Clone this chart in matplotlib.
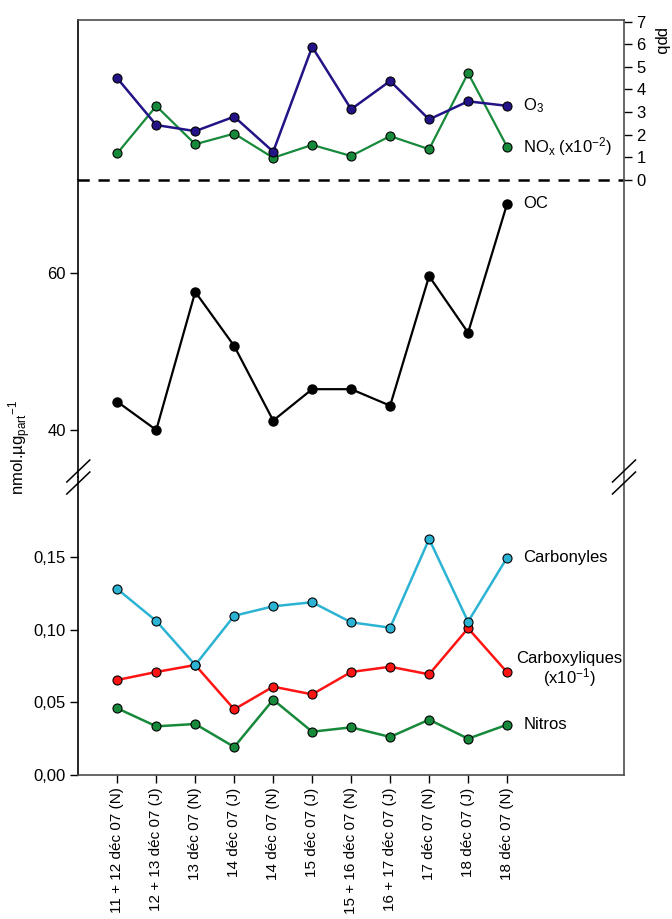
import matplotlib
matplotlib.use("Agg")
import matplotlib.pyplot as plt
from matplotlib.lines import Line2D

plt.rcParams['font.family'] = ['Liberation Sans', 'DejaVu Sans']
plt.rcParams['mathtext.fontset'] = 'custom'
plt.rcParams['mathtext.rm'] = 'Liberation Sans'
plt.rcParams['mathtext.it'] = 'Liberation Sans'

# ---------------- data ----------------
dates = ["11 + 12 déc 07 (N)", "12 + 13 déc 07 (J)", "13 déc 07 (N)", "14 déc 07 (J)",
         "14 déc 07 (N)", "15 déc 07 (J)", "15 + 16 déc 07 (N)", "16 + 17 déc 07 (J)",
         "17 déc 07 (N)", "18 déc 07 (J)", "18 déc 07 (N)"]
o3 = [4.49, 2.42, 2.15, 2.79, 1.24, 5.88, 3.12, 4.37, 2.67, 3.47, 3.27]
nox = [1.17, 3.26, 1.57, 2.04, 0.97, 1.54, 1.05, 1.93, 1.35, 4.72, 1.46]
oc = [43.6, 40.0, 57.6, 50.7, 41.2, 45.2, 45.2, 43.1, 59.6, 52.4, 68.8]
carbonyles = [0.128, 0.106, 0.0757, 0.1096, 0.1161, 0.1189, 0.1051, 0.1014, 0.1624, 0.1055, 0.1496]
carboxyliques = [0.0654, 0.0709, 0.0757, 0.0452, 0.0608, 0.0555, 0.0709, 0.0745, 0.0693, 0.101, 0.0707]
nitros = [0.0459, 0.0335, 0.0351, 0.0193, 0.0518, 0.0298, 0.0328, 0.0262, 0.0381, 0.025, 0.0346]

ppb_ticks = [0, 1, 2, 3, 4, 5, 6, 7]
oc_ticks = [40, 60]
bot_ticks = [0.0, 0.05, 0.10, 0.15]
bot_labels = ["0,00", "0,05", "0,10", "0,15"]

# ---------------- figure ----------------
W, H = 672, 919
fig = plt.figure(figsize=(W / 100, H / 100), dpi=100)

def fx(px):
    return px / W

def fy(py):
    return 1 - py / H

left, right = 78.3, 624.0
y_top, y_dash, y_break, y_bot = 20.0, 179.7, 477.0, 775.0

ax_top = fig.add_axes([fx(left), fy(y_dash), fx(right - left), (y_dash - y_top) / H])
ax_mid = fig.add_axes([fx(left), fy(y_break), fx(right - left), (y_break - y_dash) / H])
ax_bot = fig.add_axes([fx(left), fy(y_bot), fx(right - left), (y_bot - y_break) / H])

x = list(range(len(dates)))
FS = 12
spine_gray = '#4d4d4d'

for ax in (ax_top, ax_mid, ax_bot):
    ax.set_xlim(-1, 13)
    ax.patch.set_alpha(0)
    ax.spines['left'].set_color('black')
    ax.spines['right'].set_color(spine_gray)
    ax.spines['top'].set_color(spine_gray)
    ax.spines['bottom'].set_color(spine_gray)
    for s in ax.spines.values():
        s.set_linewidth(1.2)
    ax.tick_params(direction='out', length=5, width=1, labelsize=FS)

# ---- top panel (ppb) ----
ax_top.set_ylim(0, 7.07)
ax_top.spines['bottom'].set_visible(False)
ax_top.yaxis.tick_right()
ax_top.set_yticks(ppb_ticks)
ax_top.tick_params(axis='y', right=True, left=False, colors='black', length=6, pad=3)
ax_top.tick_params(axis='x', bottom=False, labelbottom=False)
ax_top.axhline(0, color='black', lw=1.8, ls=(0, (4.5, 3.5)), clip_on=False, zorder=1)

o3_c = '#221486'
nox_c = '#17893a'
ax_top.plot(x, nox, color=nox_c, lw=1.6, marker='o', ms=6.5, mfc=nox_c, mec='black', mew=0.8, zorder=3, clip_on=False)
ax_top.plot(x, o3, color=o3_c, lw=1.8, marker='o', ms=6.5, mfc=o3_c, mec='black', mew=0.8, zorder=4, clip_on=False)
ax_top.text(10.42, o3[-1], "O$_3$", fontsize=FS, va='center', ha='left')
ax_top.text(10.42, nox[-1], "NO$_\\mathrm{x}$ (x10$^{-2}$)", fontsize=FS, va='center', ha='left')
fig.text(fx(660), fy(42), "ppb", rotation=270, fontsize=FS, ha='center', va='center')

# ---- middle panel (OC) ----
ax_mid.set_ylim(34.01, 71.89)
ax_mid.spines['top'].set_visible(False)
ax_mid.spines['bottom'].set_visible(False)
ax_mid.set_yticks(oc_ticks)
ax_mid.tick_params(axis='y', right=False, length=6, pad=3)
ax_mid.tick_params(axis='x', bottom=False, labelbottom=False)
ax_mid.plot(x, oc, color='black', lw=1.6, marker='o', ms=6.5, mfc='black', mec='black', zorder=3)
ax_mid.text(10.42, oc[-1], "OC", fontsize=FS, va='center', ha='left')

# ---- bottom panel ----
ax_bot.set_ylim(0, 0.2051)
ax_bot.spines['top'].set_visible(False)
ax_bot.set_yticks(bot_ticks)
ax_bot.set_yticklabels(bot_labels)
ax_bot.tick_params(axis='y', right=False, length=6, pad=3)
ax_bot.set_xticks(x)
ax_bot.set_xticklabels(dates, rotation=90, fontsize=11, va='top', ha='center')
ax_bot.tick_params(axis='x', length=6, pad=3)

carb_c = '#2cb3d3'
red_c = '#ff1414'
nit_c = '#17893a'
ax_bot.plot(x, nitros, color=nit_c, lw=1.8, marker='o', ms=6.5, mfc=nit_c, mec='black', mew=0.8, zorder=3)
ax_bot.plot(x, carboxyliques, color=red_c, lw=1.8, marker='o', ms=6.5, mfc=red_c, mec='black', mew=0.8, zorder=4)
ax_bot.plot(x, carbonyles, color=carb_c, lw=1.8, marker='o', ms=6.5, mfc=carb_c, mec='black', mew=0.8, zorder=5)
ax_bot.text(10.42, carbonyles[-1], "Carbonyles", fontsize=FS, va='center', ha='left')
ax_bot.text(11.6, carboxyliques[-1] + 0.0015, "Carboxyliques\n(x10$^{-1}$)", fontsize=FS,
            va='center', ha='center', linespacing=1.0)
ax_bot.text(10.42, nitros[-1], "Nitros", fontsize=FS, va='center', ha='left')

# y label
fig.text(fx(20), fy(448), "nmol.µg$_\\mathrm{part}$$^{-1}$", rotation=90, fontsize=FS,
         ha='center', va='center')

# break marks
for cx in (left, right):
    for cy in (471.0, 483.0):
        fig.add_artist(Line2D([fx(cx - 11.5), fx(cx + 11.5)], [fy(cy + 11), fy(cy - 11)],
                              color='black', lw=1.1))

fig.savefig("out.png", dpi=100)
